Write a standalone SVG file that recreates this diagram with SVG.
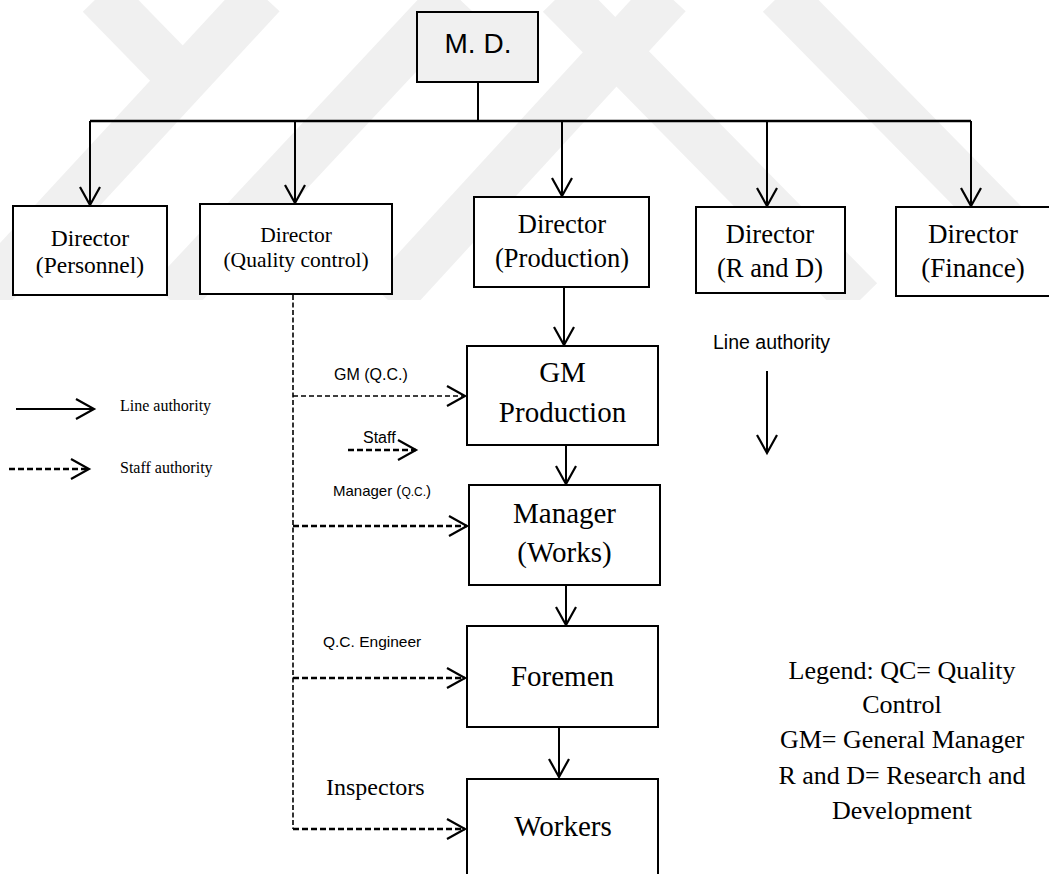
<svg xmlns="http://www.w3.org/2000/svg" width="1049" height="874" viewBox="0 0 1049 874">
  <style>
    .box { fill: #ffffff; stroke: #000000; stroke-width: 2; }
    .serif { font-family: "Liberation Serif", "Times New Roman", serif; fill: #000000; }
    .sans { font-family: "Liberation Sans", Arial, sans-serif; fill: #000000; }
    .line { fill: none; stroke: #000000; stroke-width: 2; }
    .bus { fill: none; stroke: #000000; stroke-width: 2.6; }
    .staff-thin { fill: none; stroke: #000000; stroke-width: 1.4; stroke-dasharray: 5 3; }
    .staff { fill: none; stroke: #000000; stroke-width: 2.3; stroke-dasharray: 6 3; }
    .staff-v { fill: none; stroke: #000000; stroke-width: 1.6; stroke-dasharray: 5 2.5; }
    .band { fill: none; stroke: #f0f0f0; stroke-width: 48; }
  </style>
  <defs>
    <marker id="head" viewBox="0 0 20 22" refX="19" refY="11" markerWidth="20" markerHeight="22" markerUnits="userSpaceOnUse" orient="auto" overflow="visible">
      <path d="M1,1 L19,11 L1,21" fill="none" stroke="#000000" stroke-width="2.2" stroke-dasharray="none" stroke-linejoin="miter"/>
    </marker>
    <clipPath id="wm-clip">
      <rect x="0" y="0" width="1049" height="300"/>
    </clipPath>
  </defs>

  <rect x="0" y="0" width="1049" height="874" fill="#ffffff"/>

  <!-- faint background watermark bands -->
  <g id="watermark" clip-path="url(#wm-clip)">
    <line class="band" x1="100" y1="-5" x2="178" y2="75"/>
    <line class="band" x1="262" y1="-5" x2="-20" y2="300"/>
    <line class="band" x1="455" y1="-5" x2="170" y2="300"/>
    <line class="band" x1="668" y1="-5" x2="388" y2="300"/>
    <line class="band" x1="560" y1="-5" x2="860" y2="300"/>
    <line class="band" x1="780" y1="-5" x2="1060" y2="280"/>
  </g>

  <!-- connectors -->
  <g id="connectors">
    <!-- line authority from M.D. -->
    <line class="line" x1="478" y1="82" x2="478" y2="121"/>
    <line class="bus" x1="90" y1="121" x2="971" y2="121"/>
    <line class="line" x1="90" y1="121" x2="90" y2="205" marker-end="url(#head)"/>
    <line class="line" x1="295" y1="121" x2="295" y2="203" marker-end="url(#head)"/>
    <line class="line" x1="562" y1="121" x2="562" y2="196" marker-end="url(#head)"/>
    <line class="line" x1="767" y1="121" x2="767" y2="206" marker-end="url(#head)"/>
    <line class="line" x1="971" y1="121" x2="971" y2="206" marker-end="url(#head)"/>

    <!-- production chain -->
    <line class="line" x1="564" y1="288" x2="564" y2="345" marker-end="url(#head)"/>
    <line class="line" x1="566" y1="446" x2="566" y2="484" marker-end="url(#head)"/>
    <line class="line" x1="566" y1="586" x2="566" y2="625" marker-end="url(#head)"/>
    <line class="line" x1="559" y1="728" x2="559" y2="777" marker-end="url(#head)"/>

    <!-- staff authority from quality control -->
    <line class="staff-v" x1="293" y1="295" x2="293" y2="829"/>
    <line class="staff-thin" x1="293" y1="396" x2="465" y2="396" marker-end="url(#head)"/>
    <line class="staff" x1="293" y1="526" x2="467" y2="526" marker-end="url(#head)"/>
    <line class="staff" x1="293" y1="678" x2="465" y2="678" marker-end="url(#head)"/>
    <line class="staff" x1="293" y1="829" x2="465" y2="829" marker-end="url(#head)"/>

    <!-- small staff sample arrow -->
    <line class="staff" x1="348" y1="450" x2="416" y2="450" marker-end="url(#head)"/>

    <!-- key arrows -->
    <line class="line" x1="16" y1="409" x2="94" y2="409" marker-end="url(#head)"/>
    <line class="staff" x1="9" y1="469" x2="89" y2="469" marker-end="url(#head)"/>
    <line class="line" x1="767" y1="371" x2="767" y2="453" marker-end="url(#head)"/>
  </g>

  <!-- nodes -->
  <g id="md">
    <rect x="417" y="12" width="121" height="70" fill="#f0f0f0" stroke="#000000" stroke-width="2"/>
    <text class="sans" x="478" y="53" font-size="28" text-anchor="middle">M. D.</text>
  </g>

  <g id="dir-personnel">
    <rect class="box" x="13" y="206" width="154" height="89"/>
    <text class="serif" x="90" y="246" font-size="23.5" text-anchor="middle">Director</text>
    <text class="serif" x="90" y="273" font-size="23.5" text-anchor="middle">(Personnel)</text>
  </g>

  <g id="dir-quality">
    <rect class="box" x="200" y="204" width="192" height="90"/>
    <text class="serif" x="296" y="242" font-size="21.5" text-anchor="middle">Director</text>
    <text class="serif" x="296" y="267" font-size="21.5" text-anchor="middle">(Quality control)</text>
  </g>

  <g id="dir-production">
    <rect class="box" x="474" y="197" width="175" height="90"/>
    <text class="serif" x="562" y="233" font-size="26.5" text-anchor="middle">Director</text>
    <text class="serif" x="562" y="267" font-size="26.5" text-anchor="middle">(Production)</text>
  </g>

  <g id="dir-rd">
    <rect class="box" x="696" y="207" width="149" height="86"/>
    <text class="serif" x="770" y="243" font-size="26.5" text-anchor="middle">Director</text>
    <text class="serif" x="770" y="277" font-size="26.5" text-anchor="middle">(R and D)</text>
  </g>

  <g id="dir-finance">
    <rect class="box" x="896" y="207" width="170" height="89"/>
    <text class="serif" x="973" y="243" font-size="27" text-anchor="middle">Director</text>
    <text class="serif" x="973" y="277" font-size="27" text-anchor="middle">(Finance)</text>
  </g>

  <g id="gm-production">
    <rect class="box" x="467" y="346" width="191" height="99"/>
    <text class="serif" x="562.5" y="382" font-size="29" text-anchor="middle">GM</text>
    <text class="serif" x="562.5" y="422" font-size="29" text-anchor="middle">Production</text>
  </g>

  <g id="manager-works">
    <rect class="box" x="469" y="485" width="191" height="100"/>
    <text class="serif" x="564.5" y="523" font-size="29" text-anchor="middle">Manager</text>
    <text class="serif" x="564.5" y="562" font-size="29" text-anchor="middle">(Works)</text>
  </g>

  <g id="foremen">
    <rect class="box" x="467" y="626" width="191" height="101"/>
    <text class="serif" x="562.5" y="686" font-size="29" text-anchor="middle">Foremen</text>
  </g>

  <g id="workers">
    <rect class="box" x="467" y="779" width="191" height="110"/>
    <text class="serif" x="563" y="836" font-size="29" text-anchor="middle">Workers</text>
  </g>

  <!-- staff labels -->
  <g id="staff-labels">
    <text class="sans" x="334" y="380" font-size="16">GM (Q.C.)</text>
    <text class="sans" x="363" y="443" font-size="16">Staff</text>
    <text class="sans" x="333" y="496" font-size="15">Manager (<tspan font-size="12">Q.C.</tspan>)</text>
    <text class="sans" x="323" y="647" font-size="15.5">Q.C. Engineer</text>
    <text class="serif" x="326" y="795" font-size="24">Inspectors</text>
  </g>

  <!-- key -->
  <g id="key">
    <text class="serif" x="120" y="411" font-size="16">Line authority</text>
    <text class="serif" x="120" y="473" font-size="16">Staff authority</text>
    <text class="sans" x="713" y="349" font-size="19.5">Line authority</text>
  </g>

  <!-- abbreviations -->
  <g id="abbreviations">
    <text class="serif" x="902" y="679" font-size="26" text-anchor="middle">Legend: QC= Quality</text>
    <text class="serif" x="902" y="713" font-size="26" text-anchor="middle">Control</text>
    <text class="serif" x="902" y="748" font-size="26" text-anchor="middle">GM= General Manager</text>
    <text class="serif" x="902" y="784" font-size="26" text-anchor="middle">R and D= Research and</text>
    <text class="serif" x="902" y="819" font-size="26" text-anchor="middle">Development</text>
  </g>
</svg>
